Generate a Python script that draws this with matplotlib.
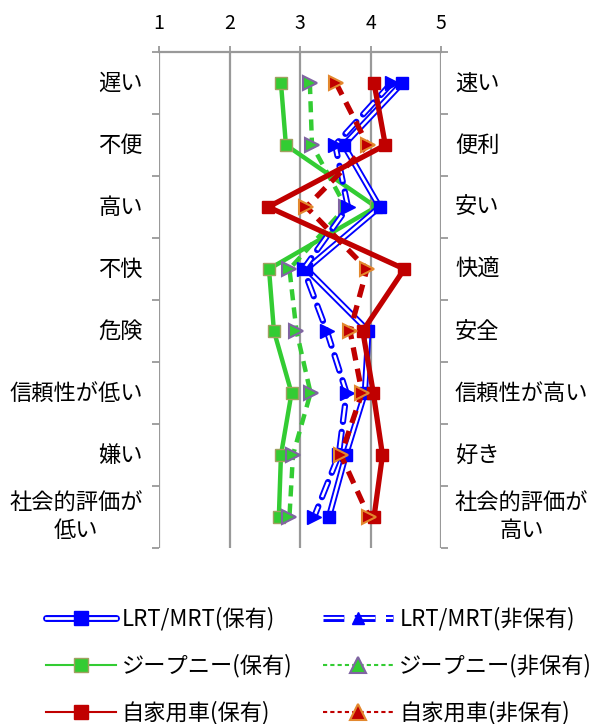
import matplotlib
matplotlib.use("Agg")
import matplotlib.pyplot as plt
from matplotlib.lines import Line2D
from matplotlib.legend_handler import HandlerTuple
import matplotlib.transforms as mtransforms

plt.rcParams['font.family'] = ['Noto Sans CJK JP', 'DejaVu Sans']

left_labels = ["遅い", "不便", "高い", "不快", "危険", "信頼性が低い", "嫌い", "社会的評価が\n低い"]
right_labels = ["速い", "便利", "安い", "快適", "安全", "信頼性が高い", "好き", "社会的評価が\n高い"]

lrt_own = [4.45, 3.62, 4.13, 3.09, 3.97, 3.92, 3.65, 3.41]
lrt_non = [4.30, 3.50, 3.68, 3.05, 3.38, 3.66, 3.55, 3.20]
jeep_own = [2.73, 2.80, 4.08, 2.56, 2.63, 2.88, 2.73, 2.70]
jeep_non = [3.14, 3.17, 3.65, 2.85, 2.95, 3.15, 2.90, 2.85]
car_own = [4.05, 4.21, 2.55, 4.48, 3.89, 4.04, 4.17, 4.05]
car_non = [3.51, 3.96, 3.09, 3.95, 3.71, 3.88, 3.58, 3.98]

blue = "#0000FF"
green = "#33CC33"
red = "#C00000"
gray = "#999999"

fig = plt.figure(figsize=(5.94, 7.24), dpi=100)
ax = fig.add_axes([159/594, 1-548/724, (441-159)/594, (548-52)/724])

rows = list(range(len(left_labels)))

# jeepney
ax.plot(jeep_own, rows, color=green, lw=3.2, marker="s", ms=9, mfc=green, mec="#A0A060", mew=1, zorder=3)
ax.plot(jeep_non, rows, color=green, lw=3.2, ls=(0, (2.5, 1.6)), marker=">", ms=10, mfc=green, mec="#8064A2", mew=1.5, zorder=3)
# LRT double lines
ax.plot(lrt_own, rows, color=blue, lw=4.5, solid_capstyle="round", zorder=4)
ax.plot(lrt_own, rows, color="white", lw=1.8, zorder=4)
ax.plot(lrt_own, rows, ls="none", marker="s", ms=9, mfc=blue, mec=blue, zorder=4)
ax.plot(lrt_non, rows, color=blue, lw=4.5, ls=(0, (2.6, 1.6)), dash_capstyle="round", zorder=4)
ax.plot(lrt_non, rows, color="white", lw=1.8, ls=(0, (2.6 * 2.5, 1.6 * 2.5)), zorder=4)
ax.plot(lrt_non, rows, ls="none", marker=">", ms=10, mfc=blue, mec=blue, zorder=4)
# car
ax.plot(car_own, rows, color=red, lw=3.8, marker="s", ms=9, mfc=red, mec=red, zorder=5)
ax.plot(car_non, rows, color=red, lw=3.8, ls=(0, (2.5, 1.6)), marker=">", ms=10, mfc=red, mec="#E3882E", mew=1.5, zorder=5)

ax.set_xlim(1, 5)
ax.set_ylim(7.5, -0.5)
ax.xaxis.tick_top()
ax.set_xticks([1, 2, 3, 4, 5])
ax.tick_params(axis="x", length=4, width=1.3, color=gray, labelsize=14, pad=9)
ax.grid(axis="x", color=gray, lw=1.6)
ax.set_axisbelow(True)
ax.set_yticks([r - 0.5 for r in rows] + [7.5])
ax.set_yticklabels([])
ax.tick_params(axis="y", left=True, right=True, length=5, width=1.3, color=gray)
for s in ["left", "right", "bottom"]:
    ax.spines[s].set_visible(False)
ax.spines["top"].set_color(gray)
ax.spines["top"].set_linewidth(1.6)

trans_l = mtransforms.blended_transform_factory(fig.transFigure, ax.transData)
for r, lab in zip(rows, left_labels):
    ax.text(143/594, r, lab, transform=trans_l, ha="right", va="center", multialignment="center", fontsize=16, linespacing=1.27)
for r, lab in zip(rows, right_labels):
    ax.text(455/594, r, lab, transform=trans_l, ha="left", va="center", multialignment="center", fontsize=16, linespacing=1.27)

# legend
h_lrt_own = (Line2D([], [], color=blue, lw=5, solid_capstyle="round"),
             Line2D([], [], color="white", lw=2),
             Line2D([], [], ls="none", marker="s", ms=10, color=blue))
h_lrt_non = (Line2D([], [], color=blue, lw=5, ls=(0, (3, 1.5))),
             Line2D([], [], color="white", lw=1.6, ls=(0, (9.4, 4.7))),
             Line2D([], [], ls="none", marker="^", ms=9, color=blue))
h_jeep_own = Line2D([], [], color=green, lw=1.5, marker="s", ms=10, mfc=green, mec="#A0A060")
h_jeep_non = Line2D([], [], color=green, lw=1.5, ls=(0, (2, 1.5)), marker="^", ms=11, mfc=green, mec="#8064A2", mew=1.5)
h_car_own = Line2D([], [], color=red, lw=1.5, marker="s", ms=10, mfc=red, mec=red)
h_car_non = Line2D([], [], color=red, lw=1.5, ls=(0, (2, 1.5)), marker="^", ms=11, mfc=red, mec="#E3882E", mew=1.5)

handles = [h_lrt_own, h_jeep_own, h_car_own, h_lrt_non, h_jeep_non, h_car_non]
labels = ["LRT/MRT(保有)", "ジープニー(保有)", "自家用車(保有)",
          "LRT/MRT(非保有)", "ジープニー(非保有)", "自家用車(非保有)"]
fig.legend(handles, labels, ncol=2, loc="center", bbox_to_anchor=(319/594, 1-666/724),
           frameon=False, fontsize=16, handlelength=3.15, handletextpad=0.27,
           columnspacing=1.4, labelspacing=1.05,
           handler_map={tuple: HandlerTuple(ndivide=1, pad=0)})

fig.savefig("out.png", dpi=100)
